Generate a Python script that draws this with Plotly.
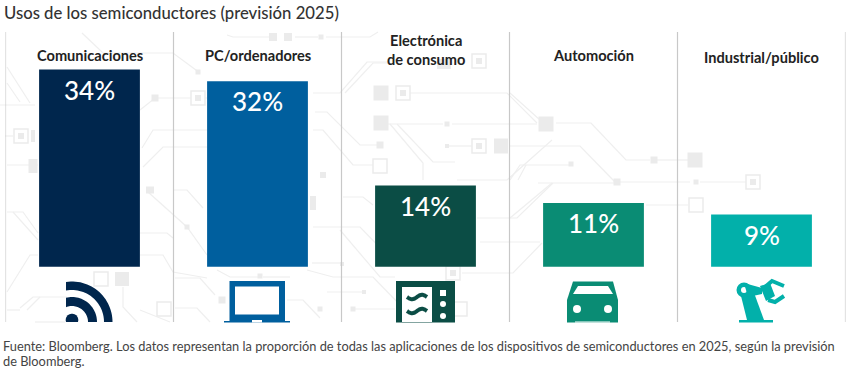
import numpy as np
import plotly.graph_objects as go

W, H = 846, 369
categories = ["Comunicaciones", "PC/ordenadores", "Electrónica<br>de consumo", "Automoción", "Industrial/público"]
values = [34, 32, 14, 11, 9]
bar_colors = ["#00264D", "#005F9E", "#0B4D45", "#0A8C74", "#02B0AA"]
label_y_px = [56, 56, 50, 56, 58]

title_text = "Usos de los semiconductores (previsión 2025)"
note_lines = [
    "Fuente: Bloomberg. Los datos representan la proporción de todas las aplicaciones de los dispositivos de semiconductores en 2025, según la previsión",
    "de Bloomberg.",
]

FONT = "Lato"
px_x = lambda x: x / W
px_y = lambda y: 1 - y / H


def path_of(points, close=True):
    s = "M" + " L".join(f"{px_x(x):.5f},{px_y(y):.5f}" for x, y in points)
    return s + (" Z" if close else "")


shapes = []


def line(points, color="#EFEFEF", width=1.2, layer="below"):
    shapes.append(dict(type="path", xref="paper", yref="paper", path=path_of(points, False),
                       line=dict(color=color, width=width), layer=layer))


def rect(x0, y0, x1, y1, color, layer="below"):
    shapes.append(dict(type="rect", xref="paper", yref="paper", x0=px_x(x0), x1=px_x(x1),
                       y0=px_y(y0), y1=px_y(y1), fillcolor=color, line_width=0, layer=layer))


def poly(points, color, layer="above"):
    shapes.append(dict(type="path", xref="paper", yref="paper", path=path_of(points),
                       fillcolor=color, line_width=0, layer=layer))


def circle(cx, cy, r, color, layer="above"):
    shapes.append(dict(type="circle", xref="paper", yref="paper", x0=px_x(cx - r), x1=px_x(cx + r),
                       y0=px_y(cy + r), y1=px_y(cy - r), fillcolor=color, line_width=0, layer=layer))


# --- faint circuit background (decoration) ---
traces = [
    [(7,67),(30,103)], [(7,83),(20,102)], [(0,105),(35,105)], [(7,165),(38,165)], [(5,136),(13,136)],
    [(82,33),(103,53),(173,53),(200,73)], [(140,110),(155,98),(191,98)], [(203,98),(290,98)],
    [(142,148),(153,130),(207,130)], [(143,167),(163,147),(207,147)],
    [(227,35),(233,37),(270,37)], [(295,37),(318,37)], [(326,37),(370,37),(378,32)],
    [(313,93),(340,93),(367,62),(390,62)], [(345,93),(373,63),(390,63)],
    [(410,93),(507,93),(537,123)], [(510,93),(540,120)],
    [(390,124),(423,163),(423,180)], [(397,124),(433,162),(455,162)],
    [(388,124),(443,124)], [(452,124),(537,124)], [(447,146),(472,146)], [(510,146),(580,146),(615,182)],
    [(315,112),(327,112),(360,145),(377,145)], [(313,130),(323,130),(353,165),(373,165)],
    [(510,180),(520,165),(570,165)], [(518,180),(526,165)],
    [(556,123),(591,123),(626,160),(650,160)], [(657,160),(688,160)],
    [(538,183),(617,183)], [(620,182),(690,182)], [(700,182),(746,182)], [(646,205),(688,205)],
    [(457,180),(507,180),(552,140)],
    [(510,218),(552,183)], [(477,218),(517,218),(553,183)], [(480,242),(540,242)], [(462,273),(513,273),(542,243)],
    [(343,197),(363,197),(373,205)], [(313,227),(360,227),(397,265)], [(340,230),(380,277),(395,277)],
    [(312,263),(340,263)], [(307,270),(333,277),(373,277),(405,310)], [(327,292),(365,292)],
    [(287,300),(303,300),(320,318)], [(355,309),(395,309)],
    [(7,212),(23,212),(38,233)], [(13,212),(38,240)], [(7,292),(30,255),(38,255)],
    [(20,308),(33,297),(67,297)], [(7,310),(20,310)], [(27,310),(40,297)],
    [(140,233),(167,233),(173,238)], [(140,255),(163,255),(173,272),(207,278)],
    [(148,192),(187,227),(207,255)], [(173,190),(187,190),(203,208)],
    [(123,287),(123,307),(137,322)], [(175,278),(200,278),(215,295)], [(175,308),(197,308),(210,322)],
    [(217,270),(230,277),(260,277)], [(263,277),(290,277)], [(35,322),(65,322)],
    [(140,310),(170,322)],
]
for t in traces:
    line(t)

filled = [
    (273,37,8,8), (288,37,8,8), (321,37,5,5), (155,98,7,7), (198,72,5,5), (33,166,9,14), (33,136,4,12),
    (381,93,15,15), (381,123,15,15), (380,145,7,7), (447,124,5,5), (501,146,14,15), (447,146,4,4),
    (444,64,14,10), (546,124,15,15), (654,160,7,7), (695,160,15,15), (571,164,5,5), (617,182,7,7), (696,182,5,5),
    (150,190,8,7), (187,227,5,5), (122,279,14,14), (222,300,7,7), (260,276,5,5), (320,309,5,5),
    (323,175,6,6), (313,203,6,14), (342,264,4,4), (364,292,4,4), (353,309,5,5), (453,241,5,5),
]
for cx, cy, w, h in filled:
    rect(cx - w / 2, cy - h / 2, cx + w / 2, cy + h / 2, "#EBEBEB")

hollow = [(21,136,1), (198,98,1), (403,93,1), (380,166,0), (479,146,1), (479,61,1), (753,182,1), (696,205,0),
          (101,279,0), (164,309,0), (453,273,1), (460,309,0)]
for cx, cy, inner in hollow:
    shapes.append(dict(type="rect", xref="paper", yref="paper", x0=px_x(cx - 7), x1=px_x(cx + 7),
                       y0=px_y(cy + 7), y1=px_y(cy - 7), fillcolor="white",
                       line=dict(color="#EBEBEB", width=1.5), layer="below"))
    if inner:
        rect(cx - 3, cy - 3, cx + 3, cy + 3, "#EBEBEB")

# --- icons (decoration) ---
NAVY, BLUE, DARK, GREEN, TEAL = bar_colors
# wifi
for r0, r1 in [(32, 40.5), (16, 25)]:
    a0, a1 = np.arcsin(6 / r0), np.arcsin(6 / r1)
    outer = [(72 + r1 * np.sin(t), 322 - r1 * np.cos(t)) for t in np.linspace(-a1, np.pi / 2, 30)]
    inner = [(72 + r0 * np.sin(t), 322 - r0 * np.cos(t)) for t in np.linspace(np.pi / 2, -a0, 30)]
    poly(outer + inner, NAVY)
poly([(72 + 6.3 * np.cos(t), 320 - 6.3 * np.sin(t)) for t in np.linspace(-0.33, np.pi + 0.33, 24)], NAVY)
# laptop
rect(229.5, 281, 285, 321, BLUE, "above")
rect(235, 286.5, 279, 314.5, "white", "above")
rect(224, 321, 290, 322.5, BLUE, "above")
rect(252, 320, 262, 322.5, "white", "above")
# microwave
rect(396, 281, 455, 322.5, DARK, "above")
rect(402, 287, 432, 322, "white", "above")
rect(440, 290, 446, 296, "white", "above")
circle(443, 304, 3, "white")
circle(443, 316, 3, "white")
for wy in (297, 311):
    xs = np.linspace(407, 427, 24)
    ys = wy + 2.2 * np.sin((xs - 407) / 20 * 2 * np.pi)
    line(list(zip(xs, ys)), DARK, 4, "above")
# car
poly([(573,281.5),(613,281.5),(618,300),(618,322.5),(567,322.5),(567,300)], GREEN)
poly([(578,286),(608,286),(613,294),(573,294)], "white")
circle(577, 309, 4, "white")
circle(608, 309, 4, "white")
rect(575, 321.5, 610, 322.5, "white", "above")
# robot
rect(739, 320, 773, 322.5, TEAL, "above")
poly([(747,320),(764,320),(753,290),(741,296)], TEAL)
circle(744, 290, 7.5, TEAL)
circle(744, 290, 3, "white")
poly([(744,283),(762,288),(762,294),(748,297)], TEAL)
poly([(760,286),(770,283),(775,296),(766,301)], TEAL)
line([(765,287),(772,281),(784,286)], TEAL, 4, "above")
line([(768,300),(775,302),(784,296)], TEAL, 4, "above")

# --- panel separators ---
for k in range(6):
    shapes.append(dict(type="line", xref="x", yref="y", x0=k - 0.5, x1=k - 0.5, y0=-9.53, y1=40.47,
                       line=dict(color="#C8C8C8", width=1.2), layer="below"))

fig = go.Figure(go.Bar(
    x=list(range(len(values))), y=values, marker=dict(color=bar_colors, line_width=0),
    width=0.6, hoverinfo="skip", cliponaxis=False,
))

annotations = []
for i, (c, v, ly) in enumerate(zip(categories, values, label_y_px)):
    annotations.append(dict(x=i, y=v, xref="x", yref="y", yanchor="top", yshift=-2, showarrow=False,
                            text=f"{v}%", font=dict(family=FONT, size=26, color="white", weight=500)))
    annotations.append(dict(x=i, y=px_y(ly), xref="x", yref="paper", yanchor="middle", showarrow=False,
                            text=c, align="center", font=dict(family=FONT, size=14.6, color="#222222", weight=700)))
annotations.append(dict(x=px_x(2), y=px_y(13), xref="paper", yref="paper", xanchor="left", yanchor="middle",
                        showarrow=False, text=title_text, font=dict(family=FONT, size=16.7, color="#333333", weight=500)))
for text, ny in zip(note_lines, (345.5, 360.5)):
    annotations.append(dict(x=px_x(1), y=px_y(ny), xref="paper", yref="paper", xanchor="left", yanchor="middle",
                            showarrow=False, text=text, font=dict(family=FONT, size=12.8, color="#444444")))

fig.update_layout(
    width=W, height=H, margin=dict(l=0, r=0, t=0, b=0), paper_bgcolor="white", plot_bgcolor="rgba(0,0,0,0)",
    showlegend=False, shapes=shapes, annotations=annotations,
    xaxis=dict(domain=[5.5 / W, 845.5 / W], range=[-0.5, 4.5], visible=False),
    yaxis=dict(domain=[1 - 322 / H, 1 - 32 / H], range=[-9.53, 40.47], visible=False),
)
fig.write_html("out.html", config={"displayModeBar": False},
               post_script="document.body.style.margin='0';document.body.style.overflow='hidden';")
